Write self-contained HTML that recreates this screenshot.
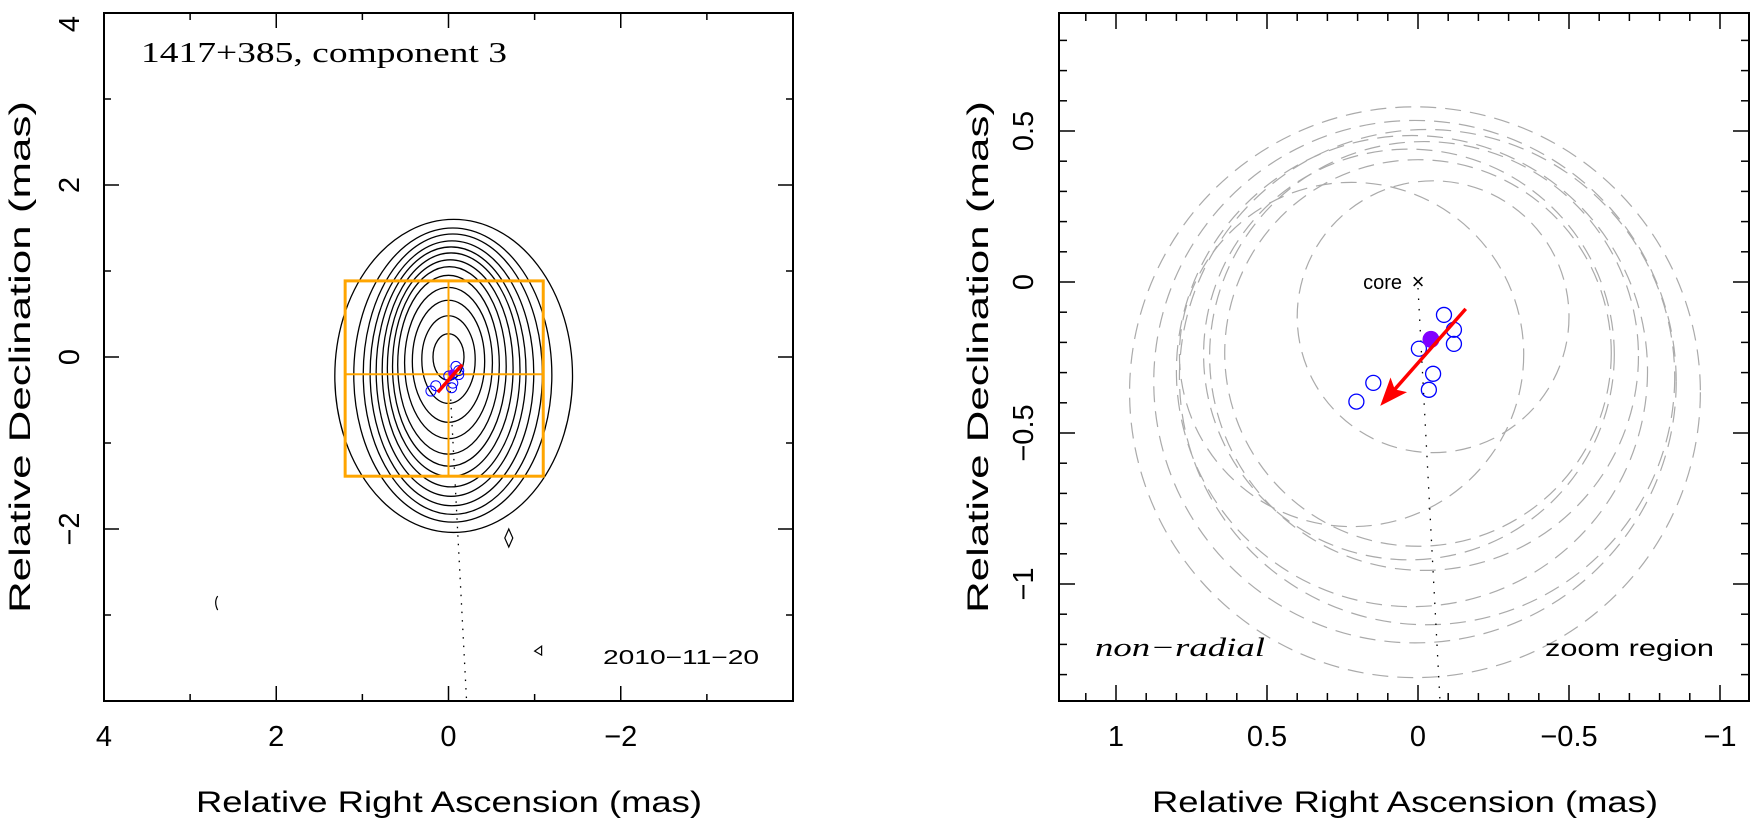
<!DOCTYPE html>
<html><head><meta charset="utf-8"><style>
html,body{margin:0;padding:0;background:#fff;width:1751px;height:821px;overflow:hidden;}
svg{display:block;font-family:"Liberation Sans",sans-serif;}
</style></head><body>
<svg id="chart" width="1751" height="821" viewBox="0 0 1751 821">
<g id="left"></g>
<g id="right"></g>
</svg>
<script>
// ---------- data ----------
const leftXTicks = [4, 3, 2, 1, 0, -1, -2, -3];
const leftXLabels = ["4", "2", "0", "\u22122"];
const leftXLabelVals = [4, 2, 0, -2];
const leftYLabels = ["4", "2", "0", "\u22122"];
const leftYLabelVals = [4, 2, 0, -2];
const contourRy = [0.27, 0.51, 0.71, 0.88, 1.04, 1.16, 1.26, 1.36, 1.45, 1.54, 1.63, 1.71, 1.82];
const contourRx = [0.18, 0.31, 0.42, 0.51, 0.59, 0.66, 0.73, 0.8, 0.87, 0.95, 1.04, 1.15, 1.38];
const contourCy = [0.0, -0.03, -0.05, -0.07, -0.09, -0.11, -0.13, -0.15, -0.17, -0.19, -0.2, -0.21, -0.22];
const contourCx = [0.0, 0.0, 0.0, 0.0, 0.0, -0.01, -0.02, -0.03, -0.03, -0.04, -0.05, -0.05, -0.06];
const compRA = [-0.086, -0.119, -0.119, -0.003, -0.05, -0.036, 0.148, 0.204];
const compDec = [-0.109, -0.158, -0.205, -0.221, -0.304, -0.357, -0.334, -0.396];
const meanRA = [-0.043];
const meanDec = [-0.19];
const arrowRA = [-0.158, 0.125];
const arrowDec = [-0.089, -0.410];
const zoomRA = [1.2, -1.1];
const zoomDec = [0.885, -1.386];
const crossDec = [-0.2];
const ridgeRA = [0, -0.21];
const ridgeDec = [0, -4];
const circRA = [-0.05, 0.22, 0.0, 0.03, -0.02, 0.02, -0.03, 0.01, 0.01];
const circDec = [-0.115, -0.24, -0.235, -0.24, -0.245, -0.295, -0.315, -0.33, -0.365];
const circR = [0.45, 0.57, 0.64, 0.68, 0.71, 0.78, 0.82, 0.865, 0.945];
const rightXTicksMajor = [1, 0.5, 0, -0.5, -1];
const rightXLabels = ["1", "0.5", "0", "\u22120.5", "\u22121"];
const rightYTicksMajor = [0.5, 0, -0.5, -1];
const rightYLabels = ["0.5", "0", "\u22120.5", "\u22121"];

const NS = "http://www.w3.org/2000/svg";
function mk(parent, tag, attrs){ const e=document.createElementNS(NS,tag); for(const k in attrs) e.setAttribute(k,attrs[k]); parent.appendChild(e); return e; }

// ---------- left panel ----------
const L = {x0:104, x1:793, y0:13, y1:701, ra0:4, ra1:-4, d0:4, d1:-4};
const lx = ra => L.x0 + (L.ra0 - ra) / (L.ra0 - L.ra1) * (L.x1 - L.x0);
const ly = d => L.y0 + (L.d0 - d) / (L.d0 - L.d1) * (L.y1 - L.y0);
const lg = document.getElementById('left');

for (let i = 0; i < contourRy.length; i++) {
  const e = mk(lg,'ellipse',{cx:lx(contourCx[i]), cy:ly(contourCy[i]), rx:contourRx[i]*(lx(0)-lx(1)), ry:contourRy[i]*(ly(0)-ly(1)), fill:'none', stroke:'#000','stroke-width':1.3});
  
  
}
const sc1 = mk(lg,'path',{d:`M${lx(2.68)} ${ly(-2.78)} q-4 6 0 14`, fill:'none', stroke:'#000','stroke-width':1.2});
 
const sc2 = mk(lg,'path',{d:`M${lx(-0.7)} ${ly(-2.0)} l4 9 l-4 9 l-4 -9 z`, fill:'none', stroke:'#000','stroke-width':1.2});
 
const sc3 = mk(lg,'path',{d:`M${lx(-1.0)} ${ly(-3.42)} l7 -5 l0 9 z`, fill:'none', stroke:'#000','stroke-width':1.2});
 

const rl = mk(lg,'line',{x1:lx(ridgeRA[0]),y1:ly(ridgeDec[0]),x2:lx(ridgeRA[1]),y2:ly(ridgeDec[1]),stroke:'#000','stroke-width':1.3,'stroke-dasharray':'1.5 7'});
 

const zb = mk(lg,'rect',{x:lx(zoomRA[0]), y:ly(zoomDec[0]), width:lx(zoomRA[1])-lx(zoomRA[0]), height:ly(zoomDec[1])-ly(zoomDec[0]), fill:'none', stroke:'#FFA500','stroke-width':3});
 
const zv = mk(lg,'line',{x1:lx(0),y1:ly(zoomDec[0]),x2:lx(0),y2:ly(zoomDec[1]),stroke:'#FFA500','stroke-width':2});
 
const zh = mk(lg,'line',{x1:lx(zoomRA[0]),y1:ly(crossDec[0]),x2:lx(zoomRA[1]),y2:ly(crossDec[0]),stroke:'#FFA500','stroke-width':2});
 

for (let i = 0; i < compRA.length; i++) {
  const c = mk(lg,'circle',{cx:lx(compRA[i]),cy:ly(compDec[i]),r:5,fill:'none',stroke:'#00f','stroke-width':1});
   
}
const lm = mk(lg,'circle',{cx:lx(meanRA[0]),cy:ly(meanDec[0]),r:4,fill:'#8000ff'});
 
const la = mk(lg,'line',{x1:lx(arrowRA[0]),y1:ly(arrowDec[0]),x2:lx(arrowRA[1]),y2:ly(arrowDec[1]),stroke:'#f00','stroke-width':3.5});
 

const lf = mk(lg,'rect',{x:L.x0,y:L.y0,width:L.x1-L.x0,height:L.y1-L.y0,fill:'none',stroke:'#000','stroke-width':2});
 
leftXTicks.forEach(v=>{
  const len = (v%2===0)?15:7;
  const x = lx(v);
  const t1 = mk(lg,'line',{x1:x,y1:L.y1,x2:x,y2:L.y1-len,stroke:'#000','stroke-width':1.5});
   
  const t2 = mk(lg,'line',{x1:x,y1:L.y0,x2:x,y2:L.y0+len,stroke:'#000','stroke-width':1.5});
   
  const y = ly(v);
  const t3 = mk(lg,'line',{x1:L.x0,y1:y,x2:L.x0+len,y2:y,stroke:'#000','stroke-width':1.5});
   
  const t4 = mk(lg,'line',{x1:L.x1,y1:y,x2:L.x1-len,y2:y,stroke:'#000','stroke-width':1.5});
   
});
leftXLabelVals.forEach((v,i)=>{
  const t = mk(lg,'text',{x:lx(v),y:746,'font-size':29,'text-anchor':'middle'}); t.textContent = leftXLabels[i];
   
});
leftYLabelVals.forEach((v,i)=>{
  const yy = Math.max(ly(v), 24);
  const t = mk(lg,'text',{x:0,y:0,'font-size':29,'text-anchor':'middle',transform:`translate(79 ${yy}) rotate(-90)`}); t.textContent = leftYLabels[i];
   
});

// ---------- right panel ----------
const R = {x0:1059, x1:1749, y0:13, y1:701, dMin:-1.386};
const rx = ra => 1418 - ra * 302;
const ry = d => 282 - d * 302;
const rg = document.getElementById('right');

for (let i = 0; i < circR.length; i++) {
  const c = mk(rg,'circle',{cx:rx(circRA[i]),cy:ry(circDec[i]),r:circR[i]*302,fill:'none',stroke:'#aaa','stroke-width':1.2,'stroke-dasharray':'16 9'});
   
}
const frac = (R.dMin - ridgeDec[0]) / (ridgeDec[1] - ridgeDec[0]);
const rEndRA = ridgeRA[0] + frac * (ridgeRA[1] - ridgeRA[0]);
const rr = mk(rg,'line',{x1:rx(ridgeRA[0]),y1:ry(ridgeDec[0])+6,x2:rx(rEndRA),y2:ry(R.dMin),stroke:'#000','stroke-width':1.3,'stroke-dasharray':'1.5 9'});
 
const ct = mk(rg,'text',{x:1402,y:289,'font-size':20,'text-anchor':'end'}); ct.textContent='core';
 
const cx = mk(rg,'text',{x:rx(0),y:ry(0)+7,'font-size':22,'text-anchor':'middle'}); cx.textContent='\u00d7';
 

for (let i = 0; i < compRA.length; i++) {
  const c = mk(rg,'circle',{cx:rx(compRA[i]),cy:ry(compDec[i]),r:7.5,fill:'none',stroke:'#00f','stroke-width':1.3});
   
}
const rm = mk(rg,'circle',{cx:rx(meanRA[0]),cy:ry(meanDec[0]),r:8.5,fill:'#8000ff'});
 
const ax1=rx(arrowRA[0]), ay1=ry(arrowDec[0]), ax2=rx(arrowRA[1]), ay2=ry(arrowDec[1]);
const ang = Math.atan2(ay2-ay1, ax2-ax1);
const hl = 28, hw = 11;
const bx = ax2 - hl*Math.cos(ang), by = ay2 - hl*Math.sin(ang);
const ra_ = mk(rg,'line',{x1:ax1,y1:ay1,x2:ax2-10*Math.cos(ang),y2:ay2-10*Math.sin(ang),stroke:'#f00','stroke-width':3.5});
 
const ah = mk(rg,'path',{d:`M${ax2} ${ay2} L${bx - hw*Math.sin(ang)} ${by + hw*Math.cos(ang)} L${bx+6*Math.cos(ang)} ${by+6*Math.sin(ang)} L${bx + hw*Math.sin(ang)} ${by - hw*Math.cos(ang)} Z`, fill:'#f00'});
 

const rf = mk(rg,'rect',{x:R.x0,y:R.y0,width:R.x1-R.x0,height:R.y1-R.y0,fill:'none',stroke:'#000','stroke-width':2});
 
for (let k = -11; k <= 12; k++) {
  const v = k/10; const x = rx(v);
  if (x < R.x0 || x > R.x1) continue;
  const len = (k%5===0)?16:8;
  const a = mk(rg,'line',{x1:x,y1:R.y1,x2:x,y2:R.y1-len,stroke:'#000','stroke-width':1.5});
   
  const b = mk(rg,'line',{x1:x,y1:R.y0,x2:x,y2:R.y0+len,stroke:'#000','stroke-width':1.5});
   
}
for (let k = -14; k <= 9; k++) {
  const v = k/10; const y = ry(v);
  if (y < R.y0 || y > R.y1) continue;
  const len = (k%5===0)?16:8;
  const a = mk(rg,'line',{x1:R.x0,y1:y,x2:R.x0+len,y2:y,stroke:'#000','stroke-width':1.5});
   
  const b = mk(rg,'line',{x1:R.x1,y1:y,x2:R.x1-len,y2:y,stroke:'#000','stroke-width':1.5});
   
}
rightXTicksMajor.forEach((v,i)=>{
  const t = mk(rg,'text',{x:rx(v),y:746,'font-size':29,'text-anchor':'middle'}); t.textContent = rightXLabels[i];
   
});
rightYTicksMajor.forEach((v,i)=>{
  const t = mk(rg,'text',{x:0,y:0,'font-size':29,'text-anchor':'middle',transform:`translate(1033 ${ry(v)}) rotate(-90)`}); t.textContent = rightYLabels[i];
   
});

// ---------- text labels ----------
const s = document.getElementById('chart');
function T(attrs, txt){ const e=document.createElementNS(NS,'text'); for(const k in attrs) e.setAttribute(k,attrs[k]); e.textContent=txt; s.appendChild(e); return e; }
const t1 = T({x:141,y:62,'font-size':28,'font-family':'"Liberation Serif",serif',textLength:366,lengthAdjust:'spacingAndGlyphs'},'1417+385, component 3');


const t2 = T({x:603,y:664,'font-size':20,textLength:156,lengthAdjust:'spacingAndGlyphs'},'2010\u221211\u221220');


const t3 = T({x:1095,y:656,'font-size':26,'font-style':'italic','font-family':'"Liberation Serif",serif',textLength:170,lengthAdjust:'spacingAndGlyphs'},'non\u2212radial');


const t4 = T({x:1545,y:656,'font-size':23,textLength:169,lengthAdjust:'spacingAndGlyphs'},'zoom region');


const t5 = T({x:449,y:812,'font-size':30,'text-anchor':'middle',textLength:506,lengthAdjust:'spacingAndGlyphs'},'Relative Right Ascension (mas)');


const t6 = T({x:1405,y:812,'font-size':30,'text-anchor':'middle',textLength:506,lengthAdjust:'spacingAndGlyphs'},'Relative Right Ascension (mas)');


const t7 = T({x:0,y:0,'font-size':30,'text-anchor':'middle',transform:'translate(30 357) rotate(-90)',textLength:512,lengthAdjust:'spacingAndGlyphs'},'Relative Declination (mas)');


const t8 = T({x:0,y:0,'font-size':30,'text-anchor':'middle',transform:'translate(988 357) rotate(-90)',textLength:512,lengthAdjust:'spacingAndGlyphs'},'Relative Declination (mas)');


</script>
</body></html>
